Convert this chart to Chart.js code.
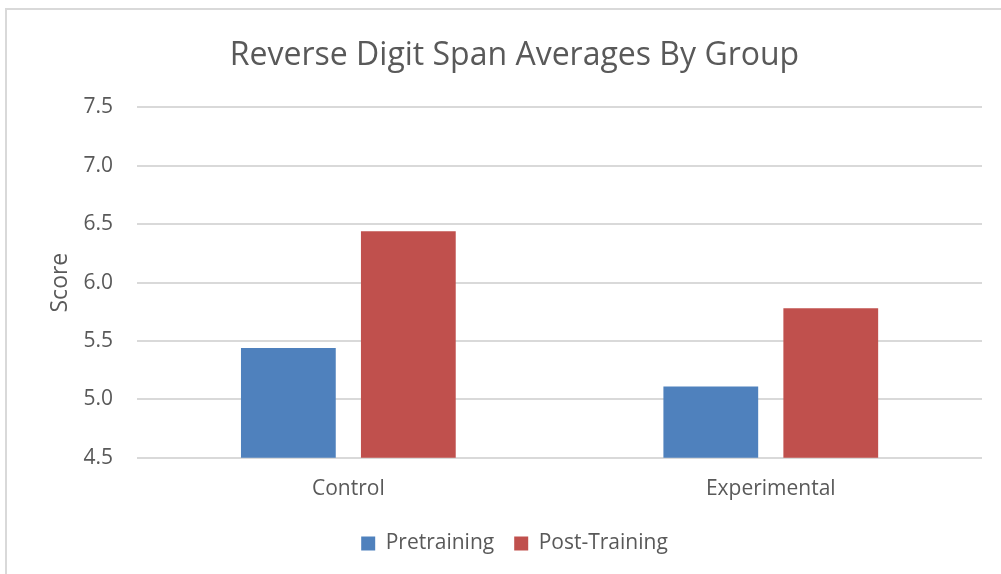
<!DOCTYPE html>
<html lang="en">
<head>
<meta charset="UTF-8">
<title>Reverse Digit Span Averages By Group</title>
<script src="https://cdn.jsdelivr.net/npm/chart.js"></script>
<style>
  body { margin: 0; background: white; overflow: hidden; width: 1001px; height: 574px; }
  .frame { position: absolute; left: 5px; top: 8px; width: 1012px; height: 580px;
           border-top: 2px solid #d9d9d9; border-left: 2px solid #d9d9d9; box-sizing: border-box; }
  canvas { position: absolute; left: 0; top: 0; }
</style>
</head>
<body>
<div class="frame">
  <canvas id="chart" width="1010" height="558"></canvas>
</div>
<script>
const groups = ["Control", "Experimental"];
const pretraining = [5.44, 5.11];
const postTraining = [6.44, 5.78];
const yTicks = [4.5, 5.0, 5.5, 6.0, 6.5, 7.0, 7.5];

const FONT = "'Open Sans', 'Noto Sans', sans-serif";
const GREY = "#595959";

new Chart(document.getElementById("chart").getContext("2d"), {
  type: "bar",
  data: {
    labels: groups,
    datasets: [
      { label: "Pretraining", data: pretraining, backgroundColor: "#4f81bd",
        categoryPercentage: 0.568, barPercentage: 0.79 },
      { label: "Post-Training", data: postTraining, backgroundColor: "#c0504d",
        categoryPercentage: 0.568, barPercentage: 0.79 }
    ]
  },
  options: {
    responsive: false,
    animation: false,
    layout: { padding: { left: 40, right: 35, top: 0, bottom: 4 } },
    plugins: {
      title: {
        display: true,
        text: "Reverse Digit Span Averages By Group",
        color: GREY,
        font: { family: FONT, size: 32, weight: "normal" },
        padding: { top: 27, bottom: 32 }
      },
      legend: {
        position: "bottom",
        labels: {
          color: GREY,
          font: { family: FONT, size: 21 },
          boxWidth: 14, boxHeight: 14,
          padding: 20
        }
      },
      tooltip: { enabled: false }
    },
    scales: {
      x: {
        grid: { display: false },
        border: { display: false },
        ticks: { color: GREY, font: { family: FONT, size: 21 }, padding: 11 }
      },
      y: {
        min: yTicks[0],
        max: yTicks[yTicks.length - 1],
        afterBuildTicks: (axis) => { axis.ticks = yTicks.map(v => ({ value: v })); },
        grid: { color: "#d9d9d9", lineWidth: 2, drawTicks: false },
        border: { display: false },
        ticks: {
          color: GREY, font: { family: FONT, size: 21 }, padding: 24,
          callback: (v) => Number(v).toFixed(1)
        },
        title: {
          display: true, text: "Score", color: GREY,
          font: { family: FONT, size: 23 }, padding: { top: 0, bottom: -15 }
        }
      }
    }
  }
});
</script>
</body>
</html>
